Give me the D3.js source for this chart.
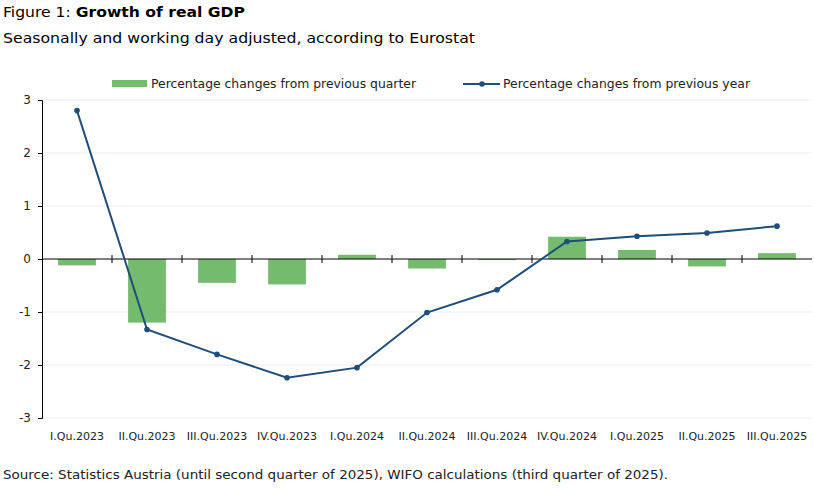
<!DOCTYPE html>
<html>
<head>
<meta charset="utf-8">
<script src="https://cdn.jsdelivr.net/npm/d3@7"></script>
<style>
  body { margin: 0; background: #fff; }
  svg { font-family: "DejaVu Sans", sans-serif; }
</style>
</head>
<body>
<svg id="chart" width="815" height="493"></svg>
<script>
// Daten
const categories = ["I.Qu.2023", "II.Qu.2023", "III.Qu.2023", "IV.Qu.2023", "I.Qu.2024", "II.Qu.2024",
                    "III.Qu.2024", "IV.Qu.2024", "I.Qu.2025", "II.Qu.2025", "III.Qu.2025"];
const quarterChange = [-0.12, -1.2, -0.45, -0.48, 0.08, -0.18, -0.02, 0.42, 0.17, -0.14, 0.11];
const yearChange = [2.8, -1.33, -1.8, -2.24, -2.05, -1.01, -0.58, 0.33, 0.43, 0.49, 0.62];
const yTicks = [-3, -2, -1, 0, 1, 2, 3];

const svg = d3.select("#chart");
const green = "#74bb6e";
const blue = "#1f4e79";

const x = d3.scaleBand().domain(categories).range([42, 812]).paddingInner(0.46).paddingOuter(0.23);
const xEdges = d3.scaleBand().domain(categories).range([42, 812]);
const y = d3.scaleLinear().domain([-3, 3]).range([418, 100]);

// Titel
const title = svg.append("text").attr("x", 3).attr("y", 17).attr("font-size", "14.5px").attr("fill", "#000")
  .attr("textLength", 242).attr("lengthAdjust", "spacingAndGlyphs");
title.append("tspan").text("Figure 1: ");
title.append("tspan").attr("font-weight", "bold").text("Growth of real GDP");
svg.append("text").attr("x", 3).attr("y", 43).attr("font-size", "14px")
  .attr("textLength", 472).attr("lengthAdjust", "spacingAndGlyphs")
  .text("Seasonally and working day adjusted, according to Eurostat");

// Gitterlinien
svg.append("g").selectAll("line").data(yTicks.filter(d => d !== 0)).enter().append("line")
  .attr("x1", 42).attr("x2", 812)
  .attr("y1", d => y(d)).attr("y2", d => y(d))
  .attr("stroke", "#ececec").attr("stroke-width", 1);

// Balken
svg.append("g").selectAll("rect").data(quarterChange).enter().append("rect")
  .attr("x", (d, i) => x(categories[i]))
  .attr("width", x.bandwidth())
  .attr("y", d => y(Math.max(0, d)))
  .attr("height", d => Math.abs(y(d) - y(0)))
  .attr("fill", green);

// y-Achse
const yAxis = svg.append("g").attr("transform", "translate(42,0)")
  .call(d3.axisLeft(y).tickValues(yTicks).tickSize(4).tickFormat(d => String(d)));
yAxis.select(".domain").attr("stroke", "#000");
yAxis.selectAll("text").attr("font-size", "12px").attr("fill", "#222").attr("x", -11)
  .attr("font-family", "DejaVu Sans, sans-serif");

// x-Achse bei Null
svg.append("line").attr("x1", 42).attr("x2", 812).attr("y1", y(0)).attr("y2", y(0)).attr("stroke", "#000");
svg.append("g").selectAll("line").data(categories.slice(1)).enter().append("line")
  .attr("x1", d => xEdges(d)).attr("x2", d => xEdges(d))
  .attr("y1", y(0) - 4).attr("y2", y(0) + 4).attr("stroke", "#000");

// Kategorien
svg.append("g").selectAll("text").data(categories).enter().append("text")
  .attr("x", d => xEdges(d) + xEdges.bandwidth() / 2)
  .attr("y", 440)
  .attr("text-anchor", "middle")
  .attr("font-size", "11px")
  .attr("fill", "#222")
  .text(d => d);

// Linie
const line = d3.line().x((d, i) => xEdges(categories[i]) + xEdges.bandwidth() / 2).y(d => y(d));
svg.append("path").datum(yearChange).attr("d", line)
  .attr("fill", "none").attr("stroke", blue).attr("stroke-width", 2);
svg.append("g").selectAll("circle").data(yearChange).enter().append("circle")
  .attr("cx", (d, i) => xEdges(categories[i]) + xEdges.bandwidth() / 2)
  .attr("cy", d => y(d)).attr("r", 2.8).attr("fill", blue);

// Legende
svg.append("rect").attr("x", 112).attr("y", 80).attr("width", 35).attr("height", 7).attr("fill", green);
svg.append("text").attr("x", 151).attr("y", 88).attr("font-size", "12px").attr("fill", "#222")
  .attr("textLength", 265).attr("lengthAdjust", "spacingAndGlyphs")
  .text("Percentage changes from previous quarter");
svg.append("line").attr("x1", 463).attr("x2", 500).attr("y1", 84).attr("y2", 84).attr("stroke", blue).attr("stroke-width", 2);
svg.append("circle").attr("cx", 482).attr("cy", 84).attr("r", 2.8).attr("fill", blue);
svg.append("text").attr("x", 503).attr("y", 88).attr("font-size", "12px").attr("fill", "#222")
  .attr("textLength", 247).attr("lengthAdjust", "spacingAndGlyphs")
  .text("Percentage changes from previous year");

// Quelle
svg.append("text").attr("x", 3).attr("y", 479).attr("font-size", "12px").attr("fill", "#222")
  .attr("textLength", 665).attr("lengthAdjust", "spacingAndGlyphs")
  .text("Source: Statistics Austria (until second quarter of 2025), WIFO calculations (third quarter of 2025).");
</script>
</body>
</html>
